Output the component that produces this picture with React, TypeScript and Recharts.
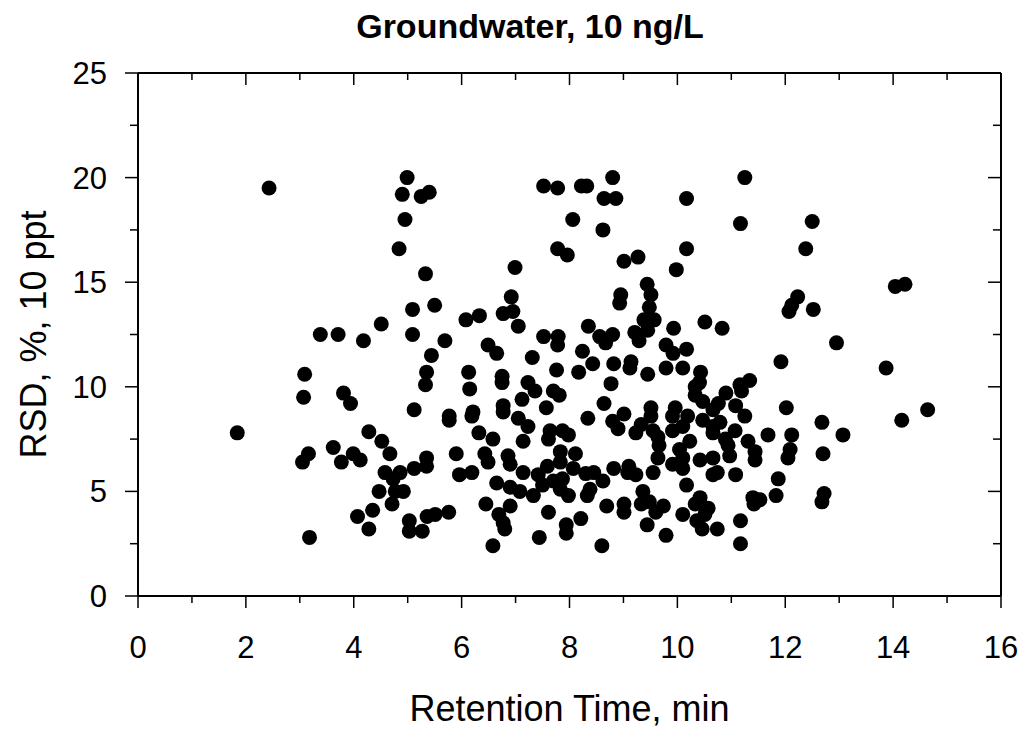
import React from 'react';
import { ScatterChart, Scatter, XAxis, YAxis, ReferenceLine } from 'recharts';

// values, in pairs (retention time, RSD)
const retentionTime = [
  2.43, 1.84, 3.38, 3.71, 4.18, 3.09, 3.07, 3.81, 3.94, 4.28,
  3.62, 3.16, 3.05, 3.77, 3.99, 4.12, 4.07, 4.28, 4.35, 3.18,
  4.99, 4.90, 5.25, 5.40, 4.95, 4.84, 5.33, 6.99, 7.52, 7.78,
  8.22, 8.32, 8.06, 7.78, 7.96, 6.92, 6.77, 6.95, 7.05, 6.08,
  6.33, 5.09, 5.50, 4.51, 5.09, 5.69, 5.44, 5.35, 5.33, 6.49,
  6.65, 6.13, 6.15, 6.75, 6.75, 7.23, 7.31, 7.52, 7.79, 7.78,
  8.24, 8.35, 7.76, 8.17, 8.43, 8.80, 8.64, 8.86, 10.17, 11.25,
  8.62, 11.17, 12.50, 10.17, 12.38, 9.98, 9.01, 9.27, 9.44, 9.51,
  8.95, 8.93, 9.48, 9.38, 9.57, 9.45, 8.56, 8.80, 8.67, 9.21,
  9.29, 9.93, 10.51, 10.83, 12.23, 12.12, 12.07, 12.52, 8.82, 9.14,
  9.12, 8.77, 9.45, 9.79, 9.79, 9.92, 10.17, 10.10, 10.43, 10.41,
  11.16, 11.34, 11.92, 12.95, 13.87, 14.04, 14.22, 12.68, 13.07, 12.70,
  12.72, 12.68, 14.16, 14.64, 7.36, 7.70, 7.81, 7.12, 7.57, 5.12,
  5.77, 5.77, 6.21, 6.19, 6.77, 6.77, 7.05, 7.23, 7.14, 8.34,
  6.32, 6.58, 7.64, 7.87, 7.98, 7.61, 4.52, 4.67, 5.90, 6.43,
  6.49, 6.86, 6.90, 8.11, 7.83, 7.83, 7.59, 5.35, 5.35, 5.12,
  4.58, 4.86, 4.73, 4.47, 4.77, 4.92, 4.71, 5.03, 5.03, 5.27,
  5.36, 5.51, 5.76, 5.96, 6.19, 6.65, 6.90, 7.14, 7.08, 7.33,
  7.42, 7.50, 7.70, 7.87, 7.83, 7.98, 8.07, 8.30, 8.38, 8.33,
  6.45, 6.90, 6.69, 6.77, 6.80, 6.58, 7.61, 7.94, 7.94, 8.21,
  7.44, 10.33, 10.33, 10.47, 11.19, 10.90, 10.76, 11.08, 10.66, 11.25,
  12.02, 8.64, 9.01, 8.80, 8.90, 9.51, 9.51, 9.33, 9.23, 9.55,
  9.64, 9.66, 9.96, 9.91, 10.19, 10.10, 9.91, 10.47, 10.66, 10.79,
  10.66, 10.89, 11.07, 10.94, 10.97, 11.31, 11.44, 11.44, 11.68, 12.12,
  12.09, 12.05, 11.87, 11.83, 11.40, 11.53, 11.42, 11.17, 11.17, 11.08,
  10.74, 10.66, 10.66, 10.42, 10.17, 10.10, 10.04, 10.23, 9.91, 10.10,
  9.64, 9.55, 9.10, 9.08, 9.23, 8.82, 8.45, 8.62, 8.69, 9.01,
  9.01, 9.36, 9.33, 9.48, 9.60, 9.74, 9.44, 9.79, 10.10, 10.42,
  10.33, 10.57, 10.36, 10.46, 10.74, 10.51, 8.60,
];

const rsd = [
  19.5, 7.8, 12.5, 12.5, 12.2, 10.6, 9.5, 9.7, 9.2, 7.85,
  7.1, 6.8, 6.4, 6.4, 6.8, 6.5, 3.8, 3.2, 4.1, 2.8,
  20.0, 19.2, 19.1, 19.3, 18.0, 16.6, 15.4, 15.7, 19.6, 19.5,
  19.6, 19.6, 18.0, 16.6, 16.3, 14.3, 13.5, 13.6, 12.9, 13.2,
  13.4, 13.7, 13.9, 13.0, 12.5, 12.2, 11.5, 10.7, 10.1, 12.0,
  11.6, 10.7, 9.9, 10.5, 10.2, 10.2, 11.4, 12.4, 12.4, 12.0,
  11.7, 12.9, 10.8, 10.7, 11.1, 20.0, 19.0, 19.0, 19.0, 20.0,
  17.5, 17.8, 17.9, 16.6, 16.6, 15.6, 16.0, 16.2, 14.9, 14.4,
  14.4, 14.0, 13.8, 13.2, 13.2, 12.7, 12.4, 12.5, 12.1, 12.6,
  12.2, 12.8, 13.1, 12.8, 14.3, 13.9, 13.6, 13.7, 11.1, 11.2,
  10.9, 10.15, 10.6, 10.9, 12.0, 11.6, 11.8, 10.9, 10.7, 10.2,
  10.1, 10.3, 11.2, 12.1, 10.9, 14.8, 14.9, 8.3, 7.7, 6.8,
  4.9, 4.5, 8.4, 8.9, 9.8, 9.8, 9.6, 9.4, 9.0, 8.9,
  8.6, 8.4, 8.8, 8.6, 9.1, 8.8, 8.5, 8.1, 7.4, 8.5,
  7.8, 7.5, 7.9, 7.9, 7.7, 7.5, 7.4, 6.8, 6.8, 6.8,
  6.4, 6.7, 6.3, 6.8, 6.9, 6.4, 6.2, 6.6, 6.2, 6.1,
  5.9, 5.9, 5.6, 5.0, 5.0, 5.0, 4.4, 3.6, 3.1, 3.1,
  3.8, 3.9, 4.0, 5.8, 5.9, 5.4, 5.2, 5.9, 5.0, 4.8,
  5.8, 5.3, 5.5, 5.6, 5.1, 4.8, 6.1, 5.85, 5.1, 4.8,
  4.4, 4.3, 3.9, 3.5, 3.2, 2.4, 4.0, 3.4, 3.0, 3.7,
  2.8, 10.0, 9.6, 9.3, 9.8, 9.7, 9.2, 9.1, 8.9, 8.6,
  9.0, 9.2, 8.7, 8.35, 8.0, 9.0, 8.6, 8.2, 7.8, 7.9,
  7.6, 7.2, 9.0, 8.6, 8.6, 8.1, 7.9, 8.4, 8.1, 8.3,
  7.8, 7.5, 7.9, 7.2, 6.7, 7.4, 6.9, 6.5, 7.7, 7.7,
  7.0, 6.6, 5.6, 4.8, 4.7, 4.6, 4.4, 3.6, 2.5, 5.8,
  5.9, 5.8, 6.6, 6.5, 5.3, 6.6, 7.0, 7.4, 6.3, 6.1,
  6.6, 5.9, 6.2, 5.9, 5.8, 6.1, 5.9, 5.5, 4.3, 4.4,
  4.0, 5.0, 4.4, 4.5, 4.0, 4.3, 3.4, 2.9, 3.9, 4.7,
  4.4, 4.2, 3.6, 3.2, 3.2, 3.9, 2.4,
];

const xTicks = [0, 1, 2, 3, 4, 5, 6, 7, 8, 9, 10, 11, 12, 13, 14, 15, 16];
const yTicks = [0, 2.5, 5, 7.5, 10, 12.5, 15, 17.5, 20, 22.5, 25];

const points = retentionTime.map((rt, i) => ({ rt, rsd: rsd[i] }));

const FONT = '"Liberation Sans", Arial, sans-serif';
const PLOT_W = 863;
const PLOT_H = 523;

const XTick = ({ x, y, payload }: any) => {
  const major = payload.value % 2 === 0;
  const len = major ? 12 : 7;
  return (
    <g>
      <line x1={x} y1={y} x2={x} y2={y + len} stroke="#000" strokeWidth={1.5} />
      <line x1={x} y1={y - PLOT_H} x2={x} y2={y - PLOT_H + len} stroke="#000" strokeWidth={1.5} />
      {major && (
        <text x={x} y={y + 62} textAnchor="middle" fontSize={31} fontFamily={FONT} fill="#000">
          {payload.value}
        </text>
      )}
    </g>
  );
};

const YTick = ({ x, y, payload }: any) => {
  const major = payload.value % 5 === 0;
  const len = major ? 13 : 8;
  return (
    <g>
      <line x1={x - len} y1={y} x2={x} y2={y} stroke="#000" strokeWidth={1.5} />
      <line x1={x + PLOT_W - len} y1={y} x2={x + PLOT_W} y2={y} stroke="#000" strokeWidth={1.5} />
      {major && (
        <text x={x - 31} y={y + 11} textAnchor="end" fontSize={31} fontFamily={FONT} fill="#000">
          {payload.value}
        </text>
      )}
    </g>
  );
};

const XTitle = ({ viewBox }: any) => (
  <text
    x={viewBox.x + viewBox.width / 2}
    y={721}
    textAnchor="middle"
    fontSize={36}
    fontFamily={FONT}
    fill="#000"
  >
    Retention Time, min
  </text>
);

const YTitle = ({ viewBox }: any) => {
  const cy = viewBox.y + viewBox.height / 2;
  return (
    <text
      x={46}
      y={cy}
      transform={`rotate(-90, 46, ${cy})`}
      textAnchor="middle"
      fontSize={36}
      fontFamily={FONT}
      fill="#000"
    >
      RSD, %, 10 ppt
    </text>
  );
};

const Dot = (props: any) => <circle cx={props.cx} cy={props.cy} r={7.5} fill="#000" />;

export default function App() {
  return (
    <div style={{ position: 'absolute', left: 0, top: 0, width: 1024, height: 731, background: '#fff' }}>
      <div
        style={{
          position: 'absolute',
          left: 230,
          top: 9,
          width: 600,
          textAlign: 'center',
          fontFamily: FONT,
          fontWeight: 'bold',
          fontSize: 34,
          lineHeight: 1,
          color: '#000',
        }}
      >
        Groundwater, 10 ng/L
      </div>
      <ScatterChart width={1024} height={731} margin={{ top: 73, right: 23, bottom: 0, left: 0 }}>
        <XAxis
          type="number"
          dataKey="rt"
          domain={[0, 16]}
          ticks={xTicks}
          interval={0}
          height={135}
          tickSize={0}
          tickMargin={0}
          tickLine={false}
          axisLine={{ stroke: '#000', strokeWidth: 2 }}
          tick={<XTick />}
          label={<XTitle />}
        />
        <YAxis
          type="number"
          dataKey="rsd"
          domain={[0, 25]}
          ticks={yTicks}
          interval={0}
          width={138}
          tickSize={0}
          tickMargin={0}
          tickLine={false}
          axisLine={{ stroke: '#000', strokeWidth: 2 }}
          tick={<YTick />}
          label={<YTitle />}
        />
        <ReferenceLine y={25} stroke="#000" strokeWidth={2} />
        <ReferenceLine x={16} stroke="#000" strokeWidth={2} />
        <Scatter data={points} fill="#000" shape={<Dot />} isAnimationActive={false} />
      </ScatterChart>
    </div>
  );
}
